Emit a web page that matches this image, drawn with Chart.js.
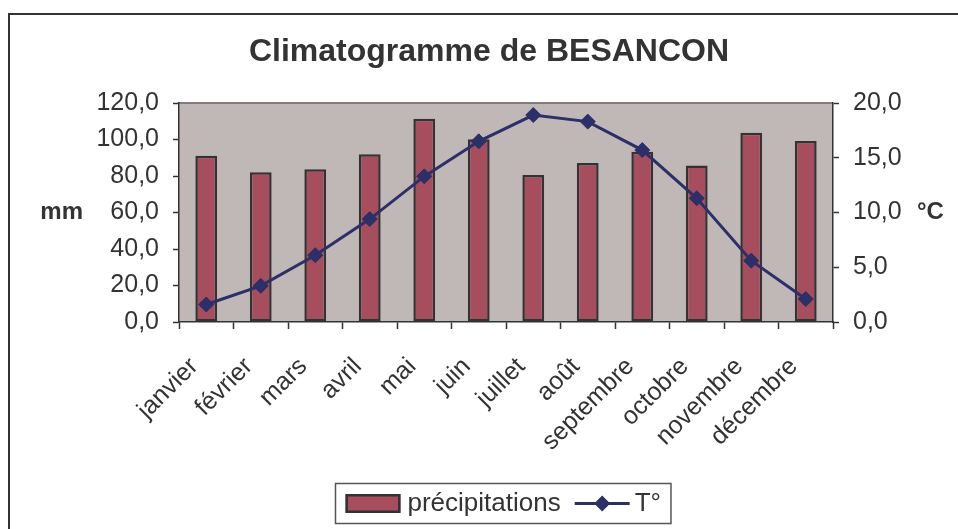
<!DOCTYPE html>
<html>
<head>
<meta charset="utf-8">
<title>Climatogramme de BESANCON</title>
<script src="https://cdn.jsdelivr.net/npm/chart.js@4.4.0/dist/chart.umd.min.js"></script>
<style>
html, body { margin: 0; padding: 0; background: #fff; overflow: hidden; }
</style>
</head>
<body>
<canvas id="climChart" width="958" height="529"></canvas>
<script>
const mois = ["janvier", "février", "mars", "avril", "mai", "juin", "juillet", "août", "septembre", "octobre", "novembre", "décembre"];
const precipitations = [91.1, 82.0, 83.7, 91.9, 111.4, 100.1, 80.5, 87.1, 93.3, 85.8, 103.7, 99.2];
const temperatures = [1.6, 3.3, 6.1, 9.4, 13.3, 16.5, 18.9, 18.3, 15.7, 11.3, 5.6, 2.1];
const uniteGauche = "mm";
const uniteDroite = "°C";

const police = "'Liberation Sans', Arial, sans-serif";
const gris = '#333333';
const virgule = v => Number(v).toFixed(1).replace('.', ',');

Chart.defaults.font.family = police;
Chart.defaults.color = gris;

// fond de la zone de tracé + cadre extérieur
const fondPlugin = {
    id: 'fond',
    beforeDraw(chart) {
        const { ctx, chartArea: a } = chart;
        ctx.save();
        ctx.fillStyle = '#ffffff';
        ctx.fillRect(0, 0, chart.width, chart.height);
        ctx.strokeStyle = gris;
        ctx.lineWidth = 2;
        ctx.beginPath();
        ctx.moveTo(9, chart.height);
        ctx.lineTo(9, 14);
        ctx.lineTo(chart.width, 14);
        ctx.stroke();
        ctx.fillStyle = '#c0b8b7';
        ctx.fillRect(a.left, a.top, a.right - a.left, a.bottom - a.top);
        ctx.strokeStyle = '#857b7a';
        ctx.lineWidth = 2;
        ctx.beginPath();
        ctx.moveTo(a.left, a.top);
        ctx.lineTo(a.right, a.top);
        ctx.stroke();
        ctx.restore();
    }
};

// unités horizontales + légende encadrée
const texteLegendePlugin = {
    id: 'texteLegende',
    afterDraw(chart) {
        const { ctx, chartArea: a } = chart;
        const midY = (a.top + a.bottom) / 2;
        ctx.save();
        ctx.fillStyle = gris;
        ctx.textBaseline = 'middle';
        ctx.font = "bold 24px " + police;
        ctx.textAlign = 'right';
        ctx.fillText(uniteGauche, a.left - 96, midY);
        ctx.textAlign = 'left';
        ctx.fillText(uniteDroite, a.right + 84, midY);

        const barres = chart.data.datasets[0];
        const ligne = chart.data.datasets[1];
        ctx.font = "26px " + police;
        const w1 = ctx.measureText(barres.label).width;
        const w2 = ctx.measureText(ligne.label).width;
        const total = 10 + 55 + 7 + w1 + 14 + 55 + 5 + w2 + 10;
        const cx = (a.left + a.right) / 2 - 3;
        const left = Math.round(cx - total / 2) + 0.5;
        const top = 483.5, h = 40;
        const cy = top + h / 2;
        ctx.strokeStyle = '#555';
        ctx.lineWidth = 1.5;
        ctx.strokeRect(left, top, total, h);

        let x = left + 10;
        ctx.fillStyle = barres.backgroundColor;
        ctx.fillRect(x, cy - 9.5, 55, 19);
        ctx.strokeStyle = barres.borderColor;
        ctx.lineWidth = 2.5;
        ctx.strokeRect(x + 1.25, cy - 8.25, 52.5, 16.5);
        x += 55 + 7;
        ctx.fillStyle = gris;
        ctx.textAlign = 'left';
        ctx.fillText(barres.label, x, cy);
        x += w1 + 14;
        ctx.strokeStyle = ligne.borderColor;
        ctx.lineWidth = 3;
        ctx.beginPath();
        ctx.moveTo(x, cy);
        ctx.lineTo(x + 55, cy);
        ctx.stroke();
        ctx.fillStyle = ligne.pointBackgroundColor;
        ctx.beginPath();
        ctx.moveTo(x + 27.5 - 8, cy);
        ctx.lineTo(x + 27.5, cy - 8);
        ctx.lineTo(x + 27.5 + 8, cy);
        ctx.lineTo(x + 27.5, cy + 8);
        ctx.closePath();
        ctx.fill();
        x += 55 + 5;
        ctx.fillStyle = gris;
        ctx.fillText(ligne.label, x, cy);
        ctx.restore();
    }
};

const climChart = new Chart(
    document.getElementById("climChart").getContext("2d"),
    {
        type: 'bar',
        data: {
            labels: mois,
            datasets: [{
                type: 'bar',
                label: "précipitations",
                data: precipitations,
                yAxisID: 'y',
                backgroundColor: 'rgb(166, 78, 93)',
                borderColor: '#333333',
                borderWidth: 2.5,
                borderSkipped: false,
                barPercentage: 0.4,
                categoryPercentage: 1.0,
                order: 1
            }, {
                type: 'line',
                label: "T°",
                data: temperatures,
                yAxisID: 'y1',
                borderColor: 'rgb(44, 47, 104)',
                backgroundColor: 'rgb(44, 47, 104)',
                pointBackgroundColor: 'rgb(44, 47, 104)',
                pointBorderColor: 'rgb(44, 47, 104)',
                borderWidth: 3,
                tension: 0,
                pointStyle: 'rectRot',
                pointRadius: 7.5,
                pointBorderWidth: 1,
                order: 0
            }]
        },
        options: {
            responsive: false,
            animation: false,
            layout: {
                padding: { left: 20, right: 0, top: 0, bottom: 0 }
            },
            plugins: {
                legend: { display: false },
                tooltip: { enabled: false },
                title: {
                    display: true,
                    text: "Climatogramme de BESANCON",
                    color: gris,
                    font: { size: 32, weight: 'bold', lineHeight: 1.2 },
                    padding: { top: 33, bottom: 31.6 }
                }
            },
            scales: {
                x: {
                    offset: true,
                    afterFit: scale => { scale.height = 207; },
                    grid: {
                        offset: true,
                        drawOnChartArea: false,
                        drawTicks: true,
                        tickLength: 7,
                        tickColor: gris,
                        tickWidth: 1.5
                    },
                    border: { color: gris, width: 1.5 },
                    ticks: {
                        font: { size: 25 },
                        color: gris,
                        minRotation: 45,
                        maxRotation: 45,
                        autoSkip: false,
                        padding: 23,
                        labelOffset: -12
                    }
                },
                y: {
                    position: 'left',
                    min: 0,
                    max: 120,
                    afterFit: scale => { scale.width = 159; },
                    grid: {
                        drawOnChartArea: false,
                        tickLength: 6,
                        tickColor: gris,
                        tickWidth: 1.5
                    },
                    border: { color: gris, width: 1.5 },
                    ticks: {
                        stepSize: 20,
                        font: { size: 25 },
                        color: gris,
                        padding: 14,
                        callback: v => virgule(v)
                    }
                },
                y1: {
                    position: 'right',
                    min: 0,
                    max: 20,
                    afterFit: scale => { scale.width = 125; },
                    grid: {
                        drawOnChartArea: false,
                        tickLength: 6,
                        tickColor: gris,
                        tickWidth: 1.5
                    },
                    border: { color: gris, width: 1.5 },
                    ticks: {
                        stepSize: 5,
                        font: { size: 25 },
                        color: gris,
                        padding: 14,
                        callback: v => virgule(v)
                    }
                }
            }
        },
        plugins: [fondPlugin, texteLegendePlugin]
    }
);
</script>
</body>
</html>
